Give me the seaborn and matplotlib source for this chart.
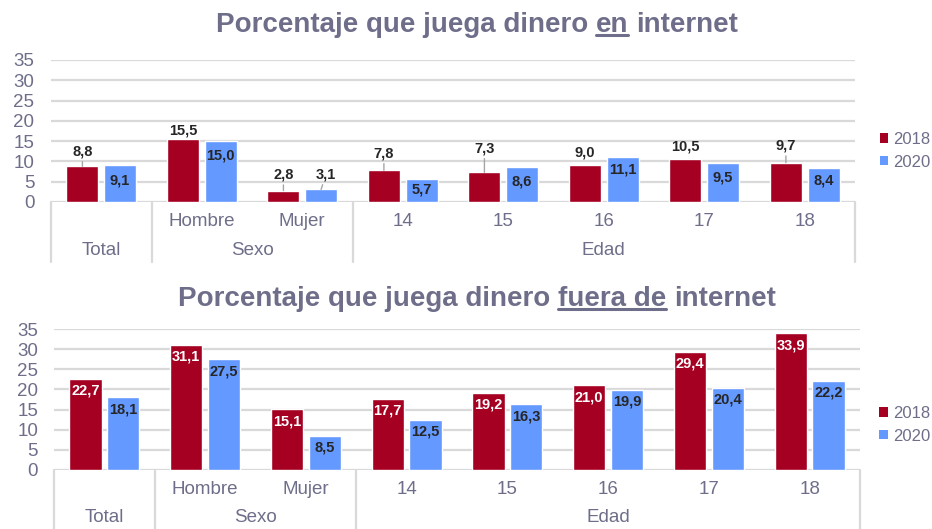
import matplotlib
matplotlib.use("Agg")
import matplotlib.pyplot as plt
import seaborn as sns
import pandas as pd
from matplotlib.patches import Patch
from matplotlib.lines import Line2D
from matplotlib.transforms import blended_transform_factory

# ---------------- data ----------------
categories = ["Total", "Hombre", "Mujer", "14", "15", "16", "17", "18"]
sub_labels = ["", "Hombre", "Mujer", "14", "15", "16", "17", "18"]
groups = ["Total", "Sexo", "Edad"]
group_first = [0, 1, 3]
group_last = [0, 2, 7]
years = ["2018", "2020"]

online_2018 = [8.8, 15.5, 2.8, 7.8, 7.3, 9.0, 10.5, 9.7]
online_2020 = [9.1, 15.0, 3.1, 5.7, 8.6, 11.1, 9.5, 8.4]
offline_2018 = [22.7, 31.1, 15.1, 17.7, 19.2, 21.0, 29.4, 33.9]
offline_2020 = [18.1, 27.5, 8.5, 12.5, 16.3, 19.9, 20.4, 22.2]

y_ticks = [0, 5, 10, 15, 20, 25, 30, 35]

title_top = ["Porcentaje que juega dinero", "en", "internet"]
title_bottom = ["Porcentaje que juega dinero", "fuera de", "internet"]

# label offsets (pixels, + above bar top, - inside bar)
lab_top_2018 = [15, 9, 16, 17, 24, 13, 13, 17]
lab_top_2020 = [-15, -14, 15, -11, -14, -13, -14, -13]
labdx_top_2020 = [0, 0, 5, 0, 0, 0, 0, 0]

# ---------------- style ----------------
W, H = 932, 529
RED = "#A50021"
BLUE = "#6499FF"
GREY_TXT = "#6E6E8A"
GRID = "#D9D9D9"
DARK = "#262626"
FONT = "Liberation Sans"

sns.set_theme(style="white")
plt.rcParams["font.family"] = [FONT, "DejaVu Sans"]

fig = plt.figure(figsize=(W / 100, H / 100), dpi=100)


def px_box(l, r, top, bottom):
    return [l / W, 1 - bottom / H, (r - l) / W, (bottom - top) / H]


def make_panel(rect, v18, v20, off18, off20, dx20, inside_colors, legend_xy, tick_pad):
    ax = fig.add_axes(rect)
    df = pd.DataFrame({
        "cat": categories * 2,
        "year": [years[0]] * len(categories) + [years[1]] * len(categories),
        "val": list(v18) + list(v20),
    })
    sns.barplot(data=df, x="cat", y="val", hue="year", order=categories,
                hue_order=years, palette=[RED, BLUE], width=0.75, gap=0.15,
                saturation=1, ax=ax, legend=False, zorder=3)
    ax.set_xlim(-0.5, len(categories) - 0.5)
    ax.set_ylim(0, 35)
    ax.set_yticks(y_ticks)
    ax.set_axisbelow(True)
    ax.yaxis.grid(True, color=GRID, lw=1.6, zorder=0)
    for s in ax.spines.values():
        s.set_visible(False)
    ax.set_xlabel("")
    ax.set_ylabel("")
    ax.set_xticks([])
    ax.tick_params(axis="y", length=0, pad=tick_pad, labelsize=13.5, labelcolor=GREY_TXT)
    for t in ax.get_yticklabels():
        t.set_fontfamily(FONT)

    trans = blended_transform_factory(ax.transData, ax.transAxes)
    # category separators
    bounds = [group_first[0] - 0.5] + [gl + 0.5 for gl in group_last]
    for b in bounds:
        ax.plot([b, b], [0, -0.42], transform=trans, color=GRID, lw=1.6, clip_on=False)
    # sub labels
    for i, s in enumerate(sub_labels):
        if s:
            ax.text(i, -0.135, s, transform=trans, ha="center", va="center",
                    fontsize=13.5, color=GREY_TXT, family=FONT)
    for g, a, b in zip(groups, group_first, group_last):
        ax.text((a + b) / 2, -0.34, g, transform=trans, ha="center", va="center",
                fontsize=13.5, color=GREY_TXT, family=FONT)

    # data labels
    conts = ax.containers
    for cont, offs, dxs, icol in zip(conts, [off18, off20], [[0] * 8, dx20], inside_colors):
        for bar, dy, dx in zip(cont, offs, dxs):
            v = bar.get_height()
            x = bar.get_x() + bar.get_width() / 2
            txt = f"{v:.1f}".replace(".", ",")
            col = DARK if dy > 0 else icol
            kw = {}
            if dy >= 14.5:
                kw["arrowprops"] = dict(arrowstyle="-", color="#A6A6A6", lw=1.0,
                                        shrinkA=0, shrinkB=0)
            ax.annotate(txt, xy=(x, v), xytext=(dx * 0.72, dy * 0.72),
                        textcoords="offset points", ha="center", va="center",
                        fontsize=10.5, fontweight="bold", color=col, family=FONT,
                        zorder=5, **kw)

    handles = [Patch(facecolor=RED, edgecolor="none"), Patch(facecolor=BLUE, edgecolor="none")]
    leg = ax.legend(handles, years, loc="center left", bbox_to_anchor=legend_xy,
                    frameon=False, fontsize=12, handlelength=0.5, handleheight=0.5,
                    handletextpad=0.3, labelspacing=0.45, borderpad=0, borderaxespad=0)
    for t in leg.get_texts():
        t.set_color(GREY_TXT)
        t.set_fontfamily(FONT)
    return ax


ax1 = make_panel(px_box(51, 855, 60, 202), online_2018, online_2020,
                 lab_top_2018, lab_top_2020, labdx_top_2020, [DARK, DARK],
                 (1.031, 0.36), 12)
ax2 = make_panel(px_box(54, 860, 329, 470), offline_2018, offline_2020,
                 [-12] * 8, [-12] * 8, [0] * 8, ["white", DARK],
                 (1.024, 0.32), 11.5)

# ---------------- titles with underline ----------------
renderer = fig.canvas.get_renderer()
TKW = dict(fontsize=20, fontweight="bold", color=GREY_TXT, family=FONT)


def text_w(s):
    t = fig.text(0, 0, s, **TKW)
    w = t.get_window_extent(renderer).width
    t.remove()
    return w


def draw_title(pieces, underline_idx, cx_px, base_px, ul_px):
    space = text_w("a a") - text_w("aa")
    widths = [text_w(p) for p in pieces]
    total = sum(widths) + space * (len(pieces) - 1)
    x = cx_px - total / 2
    for i, (p, w) in enumerate(zip(pieces, widths)):
        fig.text(x / W, 1 - base_px / H, p, ha="left", va="baseline", **TKW)
        if i == underline_idx:
            fig.add_artist(Line2D([x / W, (x + w) / W], [1 - ul_px / H] * 2,
                                  color=GREY_TXT, lw=2.2))
        x += w + space


draw_title(title_top, 1, 477, 32, 34.5)
draw_title(title_bottom, 1, 477, 306, 308.5)

fig.savefig("out.png", dpi=100)
